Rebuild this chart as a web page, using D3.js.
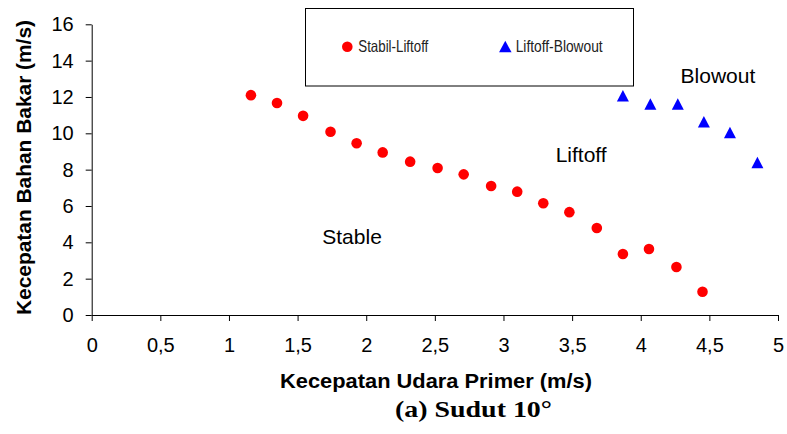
<!DOCTYPE html>
<html>
<head>
<meta charset="utf-8">
<script src="https://cdn.jsdelivr.net/npm/d3@7"></script>
<style>
  body { margin: 0; background: #fff; }
  svg { display: block; font-family: "Liberation Sans", Arial, sans-serif; }
</style>
</head>
<body>
<div id="chart"></div>
<script>
// Stabil-Liftoff points (red circles)
const stabilX = [1.16, 1.35, 1.54, 1.74, 1.93, 2.12, 2.32, 2.52, 2.71, 2.91, 3.10, 3.29, 3.48, 3.68, 3.87, 4.06, 4.26, 4.45]
const stabilY = [12.1, 11.67, 10.96, 10.09, 9.45, 8.95, 8.44, 8.09, 7.74, 7.10, 6.79, 6.15, 5.66, 4.79, 3.36, 3.63, 2.64, 1.28]
// Liftoff-Blowout points (blue triangles)
const blowX = [3.87, 4.07, 4.27, 4.46, 4.65, 4.85]
const blowY = [12.07, 11.62, 11.62, 10.63, 10.04, 8.39]

const xTicks = [0, 0.5, 1, 1.5, 2, 2.5, 3, 3.5, 4, 4.5, 5]
const yTicks = [0, 2, 4, 6, 8, 10, 12, 14, 16]
const seriesNames = ["Stabil-Liftoff", "Liftoff-Blowout"]
const regionLabels = [
    {text: "Stable", x: 1.68, y: 3.91},
    {text: "Liftoff", x: 3.38, y: 8.40},
    {text: "Blowout", x: 4.29, y: 12.79}
]

const width = 787
const height = 434
const marginTop = 24.3
const marginRight = 9
const marginBottom = 119
const marginLeft = 91.7

const x = d3.scaleLinear([0, 5], [marginLeft, width - marginRight])
const y = d3.scaleLinear([0, 16], [height - marginBottom, marginTop])
const comma = d => String(d).replace(".", ",")

// triangle centred on its bounding box, like the spreadsheet marker
const triangle = (cx, cy, w, h) => {
    const p = d3.path()
    p.moveTo(cx, cy - h / 2)
    p.lineTo(cx + w / 2, cy + h / 2)
    p.lineTo(cx - w / 2, cy + h / 2)
    p.closePath()
    return p.toString()
}

const svg = d3.select("#chart")
    .append("svg")
    .attr("width", width)
    .attr("height", height)
    .attr("viewBox", [0, 0, width, height])

svg.append("g")
    .attr("transform", `translate(0,${y(0)})`)
    .call(d3.axisBottom(x).tickValues(xTicks).tickFormat(comma).tickSizeOuter(0).tickPadding(17))
    .call(g => g.selectAll("path, line").attr("stroke", "#000"))
    .call(g => g.selectAll("text").attr("font-size", 20).attr("font-family", null).attr("fill", "#000"))

svg.append("g")
    .attr("transform", `translate(${marginLeft},0)`)
    .call(d3.axisLeft(y).tickValues(yTicks).tickSizeOuter(0).tickPadding(12))
    .call(g => g.selectAll("path, line").attr("stroke", "#000"))
    .call(g => g.selectAll("text").attr("font-size", 20).attr("font-family", null).attr("fill", "#000"))

// axis titles and caption
svg.append("text")
    .attr("x", 280).attr("y", 388)
    .attr("font-size", 20).attr("font-weight", "bold")
    .attr("textLength", 312).attr("lengthAdjust", "spacingAndGlyphs")
    .text("Kecepatan Udara Primer (m/s)")

svg.append("text")
    .attr("transform", "translate(31,315) rotate(-90)")
    .attr("font-size", 20).attr("font-weight", "bold")
    .attr("textLength", 295).attr("lengthAdjust", "spacingAndGlyphs")
    .text("Kecepatan Bahan Bakar (m/s)")

svg.append("text")
    .attr("x", 395).attr("y", 416.7)
    .attr("font-family", "'Liberation Serif', 'Times New Roman', serif")
    .attr("font-size", 23).attr("font-weight", "bold")
    .attr("textLength", 157).attr("lengthAdjust", "spacingAndGlyphs")
    .text("(a) Sudut 10°")

svg.append("g")
    .selectAll("text")
    .data(regionLabels)
    .join("text")
    .attr("x", d => x(d.x))
    .attr("y", d => y(d.y))
    .attr("font-size", 21)
    .text(d => d.text)

// points
svg.append("g")
    .attr("fill", "#ff0000")
    .selectAll("circle")
    .data(d3.range(stabilX.length))
    .join("circle")
    .attr("cx", i => x(stabilX[i]))
    .attr("cy", i => y(stabilY[i]))
    .attr("r", 5.3)

svg.append("g")
    .attr("fill", "#0000ff")
    .selectAll("path")
    .data(d3.range(blowX.length))
    .join("path")
    .attr("d", i => triangle(x(blowX[i]), y(blowY[i]), 12, 11.5))

// legend
const legend = svg.append("g")
legend.append("rect")
    .attr("x", 305.5).attr("y", 8.5)
    .attr("width", 328).attr("height", 77.5)
    .attr("fill", "#fff").attr("stroke", "#000")
legend.append("circle")
    .attr("cx", 347.3).attr("cy", 46.7).attr("r", 5.3)
    .attr("fill", "#ff0000")
legend.append("path")
    .attr("d", triangle(505.3, 46.5, 12.5, 11.5))
    .attr("fill", "#0000ff")
legend.selectAll("text.item")
    .data(seriesNames)
    .join("text")
    .attr("class", "item")
    .attr("x", (d, i) => i === 0 ? 358.3 : 515.7)
    .attr("y", 52.3)
    .attr("font-size", 16.5)
    .attr("textLength", (d, i) => i === 0 ? 70 : 87)
    .attr("lengthAdjust", "spacingAndGlyphs")
    .attr("fill", "#222")
    .text(d => d)
</script>
</body>
</html>
